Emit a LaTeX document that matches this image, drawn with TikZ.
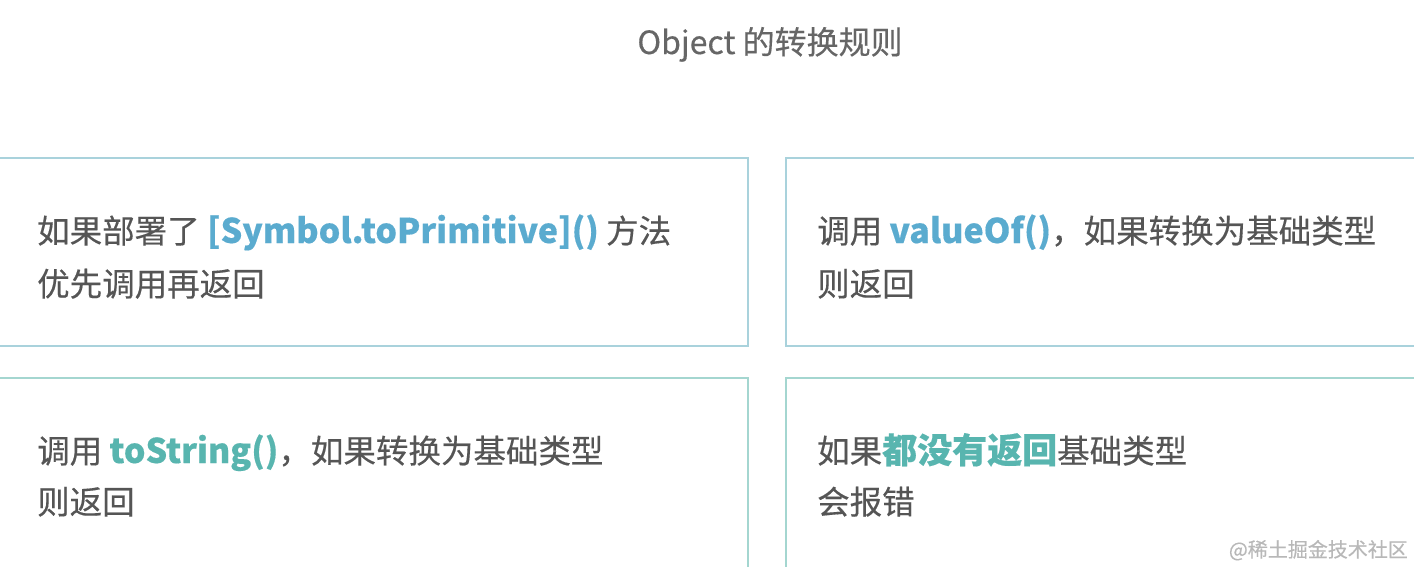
\documentclass[tikz,border=0pt]{standalone}
\usepackage{fontspec}
\setmainfont{Noto Sans CJK SC}[FakeBold=0.35]
\definecolor{txt}{HTML}{555555}
\definecolor{ttl}{HTML}{666666}
\definecolor{hlblue}{HTML}{5AABCF}
\definecolor{hlteal}{HTML}{58B5AF}
\definecolor{edgeblue}{HTML}{A9D2DC}
\definecolor{edgeteal}{HTML}{A4D6D0}
\definecolor{wm}{HTML}{B8B8B8}
\newcommand{\hlb}[1]{\textcolor{hlblue}{\textbf{\fontsize{34}{40}\selectfont #1}}}
\newcommand{\hlt}[1]{\textcolor{hlteal}{\textbf{\fontsize{34}{40}\selectfont #1}}}
\newcommand{\hlc}[1]{\textcolor{hlteal}{\textbf{\fontsize{35}{40}\selectfont #1}}}
\tikzset{
  panel/.style={draw, line width=1.2pt, rectangle, inner sep=0pt, fill=white},
  body/.style={anchor=base west, inner sep=0pt, text=txt, font=\fontsize{32.5}{38}\selectfont},
  heading/.style={anchor=base, inner sep=0pt, text=ttl, font=\fontsize{32}{36}\selectfont},
}
\begin{document}
\begin{tikzpicture}[x=1pt,y=-1pt]
\useasboundingbox (0,0) rectangle (1414,566);
\fill[white] (0,0) rectangle (1414,566);
% title
\node[heading] (title) at (770,54) {Object 的转换规则};
% panels
\node[panel, draw=edgeblue, minimum width=750pt, minimum height=188pt] (p1) at (373,252) {};
\node[panel, draw=edgeblue, minimum width=650pt, minimum height=188pt] (p2) at (1111,252) {};
\node[panel, draw=edgeteal, minimum width=750pt, minimum height=200pt] (p3) at (373,478) {};
\node[panel, draw=edgeteal, minimum width=650pt, minimum height=200pt] (p4) at (1111,478) {};
% panel 1
\node[body] (t1a) at (37,243) {如果部署了 \hlb{[Symbol.toPrimitive]()} 方法};
\node[body] (t1b) at (37,296) {优先调用再返回};
% panel 2
\node[body] (t2a) at (817,243) {调用 \hlb{valueOf()}，如果转换为基础类型};
\node[body] (t2b) at (817,296) {则返回};
% panel 3
\node[body] (t3a) at (37,463) {调用 \hlt{toString()}，如果转换为基础类型};
\node[body] (t3b) at (37,514) {则返回};
% panel 4
\node[body] (t4a) at (817,463) {如果\hlc{都没有返回}基础类型};
\node[body] (t4b) at (817,514) {会报错};
% watermark
\node[anchor=base east, inner sep=0pt, text=wm, font=\fontsize{20}{24}\selectfont] (wmk) at (1408,557) {@稀土掘金技术社区};
\end{tikzpicture}
\end{document}
